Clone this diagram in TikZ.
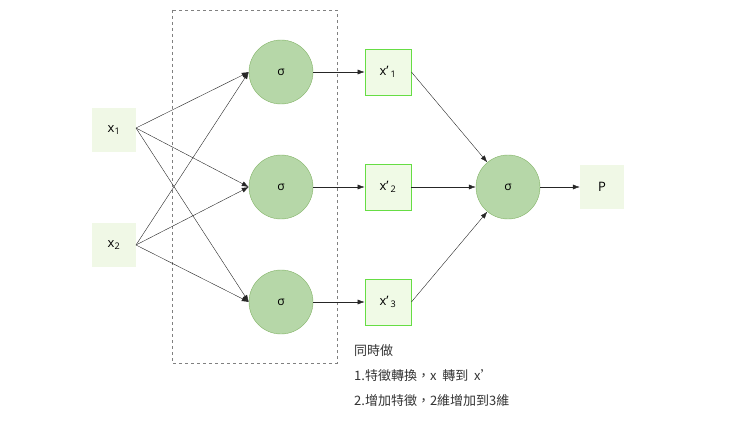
\documentclass[tikz,border=0pt]{standalone}
\usepackage{fontspec}
\setmainfont{Open Sans}
\newfontfamily\cjk{Noto Sans CJK TC}
\usetikzlibrary{arrows.meta}
\definecolor{cfill}{HTML}{B6D7A8}
\definecolor{cdraw}{HTML}{82B366}
\definecolor{bfill}{HTML}{F0FAE6}
\definecolor{bdraw}{HTML}{66DD44}
\definecolor{ifill}{HTML}{F0F8E6}
\begin{document}
\begin{tikzpicture}[x=1pt,y=-1pt,
  neuron/.style={circle,fill=cfill,draw=cdraw,minimum size=64pt,inner sep=0pt,font=\fontsize{12}{12}\selectfont},
  inp/.style={fill=ifill,minimum size=44pt,inner sep=0pt,font=\fontsize{13}{13}\selectfont},
  feat/.style={fill=bfill,draw=bdraw,thick,minimum size=46pt,inner sep=0pt,font=\fontsize{13}{13}\selectfont},
  arr/.style={-{Latex[length=7pt,width=5pt]},black!85}]
\useasboundingbox (0,0) rectangle (740,428);
\draw[dashed,gray] (172,10) rectangle (337,363);
\node[inp] (x1) at (114,130) {x\textsubscript{1}};
\node[inp] (x2) at (114,245) {x\textsubscript{2}};
\node[neuron] (h1) at (281,72) {σ};
\node[neuron] (h2) at (281,187) {σ};
\node[neuron] (h3) at (281,302) {σ};
\node[feat] (f1) at (388,72) {x'\,\textsubscript{1}};
\node[feat] (f2) at (388,187) {x'\,\textsubscript{2}};
\node[feat] (f3) at (388,302) {x'\,\textsubscript{3}};
\node[neuron] (o) at (508,187) {σ};
\node[inp] (p) at (602,187) {P};
\coordinate (s1) at (136,128);
\coordinate (s2) at (136,245);
\foreach \s in {s1,s2}{
  \draw[arr] (\s) -- (h1.west);
  \draw[arr] (\s) -- (h2.west);
  \draw[arr] (\s) -- (h3.west);}
\foreach \i in {1,2,3}{
  \draw[arr] (h\i) -- (f\i);
  \draw[arr] (f\i.east) -- (o);}
\draw[arr] (o) -- (p);
\node[anchor=north west,align=left,font=\cjk\fontsize{13}{25}\selectfont,text=black!80,inner sep=0pt] (t) at (354,344)
 {同時做\\1.特徵轉換，x\ \ 轉到\ \ x’\\2.增加特徵，2維增加到3維};
\end{tikzpicture}
\end{document}
